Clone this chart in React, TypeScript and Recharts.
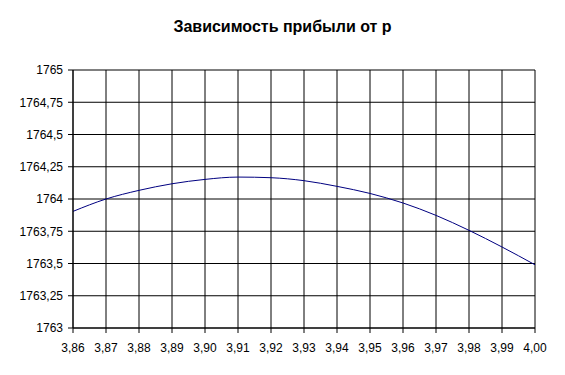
import React from 'react'
import { LineChart, Line, XAxis, YAxis, CartesianGrid } from 'recharts'

const pValues = [3.86, 3.87, 3.88, 3.89, 3.9, 3.91, 3.92, 3.93, 3.94, 3.95, 3.96, 3.97, 3.98, 3.99, 4.0]
const profit = [
  1763.904, 1764.0, 1764.067, 1764.118, 1764.152, 1764.17, 1764.165, 1764.142,
  1764.098, 1764.043, 1763.969, 1763.873, 1763.757, 1763.628, 1763.49,
]
const yTicks = [1763, 1763.25, 1763.5, 1763.75, 1764, 1764.25, 1764.5, 1764.75, 1765]

const data = pValues.map((p, i) => ({ p, profit: profit[i] }))

const font = 'Arial, "Liberation Sans", sans-serif'

const App: React.FC = () => {
  return (
    <div style={{ position: 'absolute', left: 0, top: 0, width: 565, height: 375, background: '#fff' }}>
      <div
        style={{
          position: 'absolute',
          top: 17,
          left: 0,
          width: 565,
          textAlign: 'center',
          fontFamily: font,
          fontWeight: 'bold',
          fontSize: 16,
          lineHeight: '19px',
          color: '#000',
        }}
      >
        Зависимость прибыли от p
      </div>
      <LineChart width={565} height={375} data={data} margin={{ top: 70, right: 30, bottom: 22, left: 0 }}>
        <CartesianGrid stroke="#000" strokeOpacity={1} />
        <XAxis
          type="number"
          dataKey="p"
          domain={[3.86, 4.0]}
          ticks={pValues}
          tickFormatter={(v: number) => v.toFixed(2).replace('.', ',')}
          stroke="#000"
          tickSize={5}
          tickMargin={10}
          tick={{ fill: '#000', fontSize: 12, fontFamily: font }}
          height={25}
          interval={0}
        />
        <YAxis
          type="number"
          domain={[1763, 1765]}
          ticks={yTicks}
          tickFormatter={(v: number) => String(v).replace('.', ',')}
          stroke="#000"
          tickSize={5}
          tickMargin={5}
          tick={{ fill: '#000', fontSize: 12, fontFamily: font }}
          width={73}
          interval={0}
        />
        <Line
          type="monotone"
          dataKey="profit"
          stroke="#000080"
          strokeWidth={1}
          dot={false}
          isAnimationActive={false}
        />
      </LineChart>
    </div>
  )
}

export default App
